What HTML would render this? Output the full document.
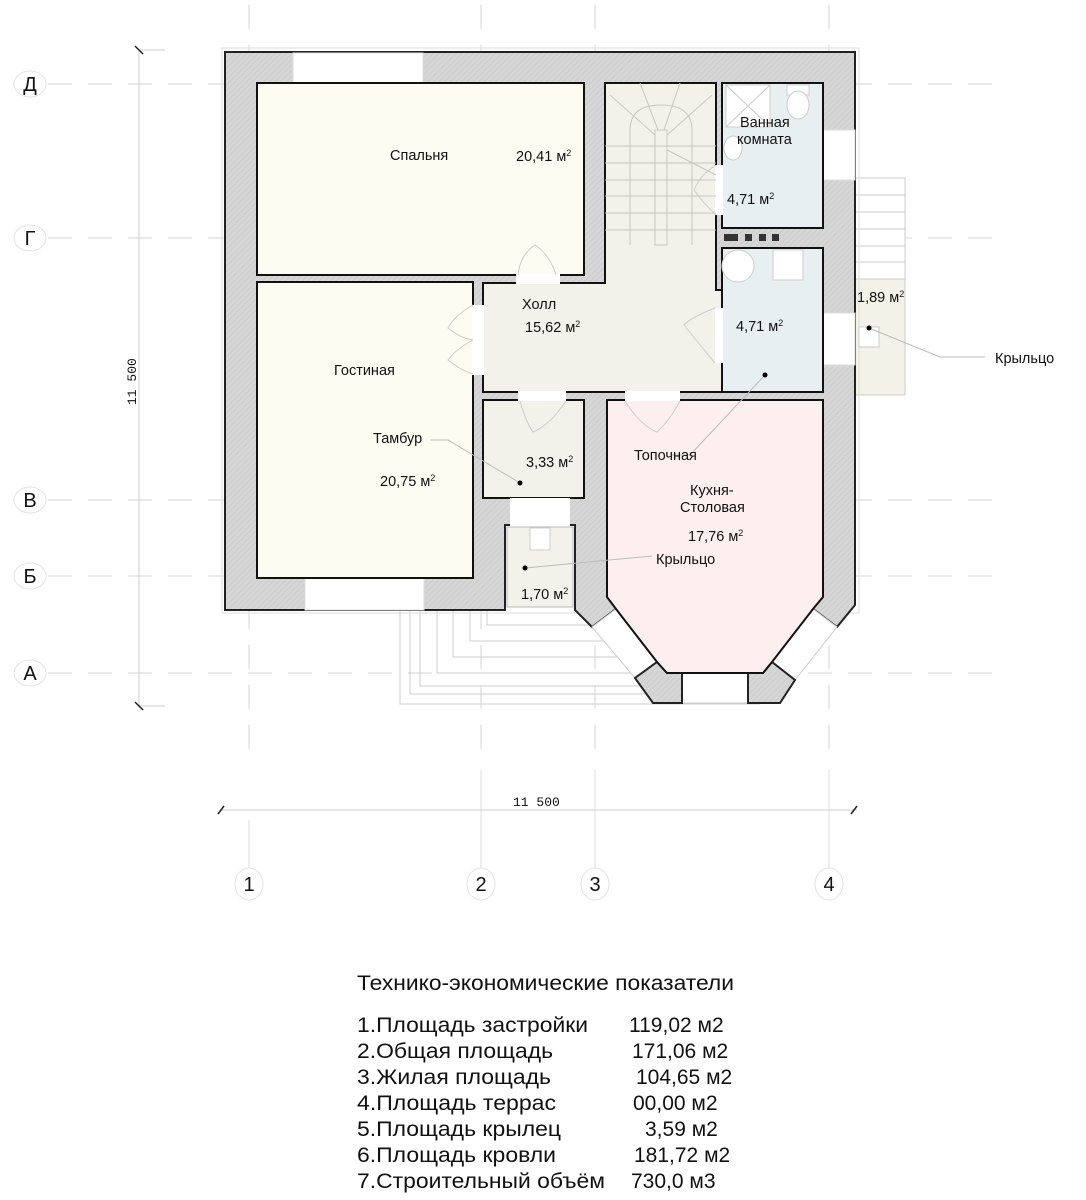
<!DOCTYPE html>
<html><head><meta charset="utf-8"><style>
html,body{margin:0;padding:0;background:#fff;}
svg{display:block;}
text{font-family:"Liberation Sans",sans-serif;fill:#111;}
</style></head><body>
<svg width="1086" height="1200" viewBox="0 0 1086 1200" xmlns="http://www.w3.org/2000/svg">
<defs>
<pattern id="h" width="4" height="4" patternUnits="userSpaceOnUse" patternTransform="rotate(45)">
<rect width="4" height="4" fill="#d6d6d6"/><line x1="0" y1="0" x2="0" y2="4" stroke="#c4c4c4" stroke-width="1"/>
</pattern>
</defs>

<!-- grid lines -->
<g stroke="#d6d6d6" stroke-width="1" stroke-dasharray="24,16" fill="none">
<line x1="48" y1="84" x2="1000" y2="84"/>
<line x1="48" y1="238" x2="1000" y2="238"/>
<line x1="48" y1="500" x2="1000" y2="500"/>
<line x1="48" y1="576" x2="1000" y2="576"/>
<line x1="48" y1="673" x2="1000" y2="673"/>
<line x1="249" y1="5" x2="249" y2="760"/>
<line x1="481" y1="5" x2="481" y2="760"/>
<line x1="595" y1="5" x2="595" y2="760"/>
<line x1="829" y1="5" x2="829" y2="760"/>
</g>
<g stroke="#ddd" stroke-width="1">
<line x1="249" y1="820" x2="249" y2="868"/>
<line x1="481" y1="770" x2="481" y2="868"/>
<line x1="595" y1="770" x2="595" y2="868"/>
<line x1="829" y1="770" x2="829" y2="868"/>
</g>

<!-- axis labels -->
<g fill="#fff" stroke="#e3e3e3">
<ellipse cx="30" cy="84" rx="16" ry="13"/><ellipse cx="30" cy="238" rx="16" ry="13"/>
<ellipse cx="30" cy="500" rx="16" ry="13"/><ellipse cx="30" cy="576" rx="16" ry="13"/>
<ellipse cx="30" cy="673" rx="16" ry="13"/>
<ellipse cx="249" cy="884" rx="14" ry="16"/><ellipse cx="481" cy="884" rx="14" ry="16"/>
<ellipse cx="595" cy="884" rx="14" ry="16"/><ellipse cx="829" cy="884" rx="14" ry="16"/>
</g>
<g font-size="20" text-anchor="middle">
<text x="30" y="91">Д</text><text x="30" y="245">Г</text><text x="30" y="507">В</text>
<text x="30" y="583">Б</text><text x="30" y="680">А</text>
<text x="249" y="891">1</text><text x="481" y="891">2</text><text x="595" y="891">3</text><text x="829" y="891">4</text>
</g>

<!-- dimensions -->
<g stroke="#ccc"><line x1="139" y1="50" x2="139" y2="706"/><line x1="220" y1="810" x2="857" y2="810"/>
<line x1="139" y1="50" x2="165" y2="50"/><line x1="139" y1="706" x2="165" y2="706"/></g>
<g stroke="#222" stroke-width="1.5"><line x1="135" y1="46" x2="143" y2="54"/><line x1="135" y1="702" x2="143" y2="710"/>
<line x1="218" y1="814" x2="224" y2="806"/><line x1="851" y1="814" x2="857" y2="806"/></g>
<text x="0" y="0" font-size="13" transform="translate(136,405) rotate(-90)" style="font-family:'Liberation Mono',monospace">11 500</text>
<text x="513" y="806" font-size="13" style="font-family:'Liberation Mono',monospace">11 500</text>

<!-- front steps -->
<g fill="none" stroke="#ccc">
<path d="M400 606 V704 H760"/><path d="M410 606 V694 H740"/><path d="M420 606 V686 H650"/>
<path d="M437 606 V673 H640"/><path d="M453 606 V657 H625"/><path d="M470 606 V641 H610"/><path d="M487 606 V625 H600"/>
</g>
<!-- right steps -->
<g fill="#fff" stroke="#ccc"><rect x="855" y="178" width="50" height="101"/></g>
<g stroke="#ccc"><line x1="855" y1="195" x2="905" y2="195"/><line x1="855" y1="212" x2="905" y2="212"/><line x1="855" y1="229" x2="905" y2="229"/><line x1="855" y1="246" x2="905" y2="246"/><line x1="855" y1="262" x2="905" y2="262"/></g>
<rect x="855" y="279" width="50" height="116" fill="#f2f2e8" stroke="#ccc"/>

<!-- building walls -->
<rect x="222" y="48" width="637" height="565" fill="none" stroke="#ddd"/>
<path d="M225 52 H855 V605 L837 627 L813 609 L616 609 L592 627 L575 610 L575 525 L505 525 L505 610 L225 610 Z" fill="url(#h)" stroke="#222" stroke-width="2"/>
<!-- bay glass -->
<g fill="#fff" stroke="#ccc">
<path d="M592 627 L616 609 L657 662 L635 678 Z"/>
<path d="M837 627 L813 609 L772 662 L795 680 Z"/>
<path d="M682 673 L748 673 L748 703 L682 703 Z"/>
</g>
<!-- bay wall chunks -->
<path d="M635 678 L657 662 L667 673 L682 673 L682 703 L653 703 Z" fill="url(#h)" stroke="#222" stroke-width="2"/>
<path d="M748 673 L763 673 L772 662 L795 680 L780 703 L748 703 Z" fill="url(#h)" stroke="#222" stroke-width="2"/>

<!-- windows -->
<g fill="#fff" stroke="#ddd"><rect x="293" y="53" width="130" height="30"/><rect x="305" y="578" width="119" height="32"/>
<rect x="823" y="130" width="32" height="50"/><rect x="823" y="313" width="32" height="52"/></g>

<!-- rooms -->
<g stroke="#111" stroke-width="2">
<rect x="257" y="83" width="327" height="192" fill="#fdfcf3"/>
<rect x="257" y="282" width="216" height="296" fill="#fdfcf3"/>
<path d="M605 83 H716 V290 H722 V392 H483 V283 H605 Z" fill="#f2f2ea"/>
<rect x="722" y="83" width="101" height="145" fill="#e8eff0"/>
<rect x="722" y="248" width="101" height="144" fill="#e8eff0"/>
<rect x="483" y="400" width="101" height="98" fill="#f2f2ea"/>
<path d="M607 400 H823 V597 L813 609 L772 662 L763 673 L667 673 L657 662 L616 609 L607 597 Z" fill="#fdeff0"/>
</g>
<rect x="507" y="527" width="66" height="80" fill="#f2f2ea" stroke="#bbb"/>
<!-- door openings -->
<g fill="#fff"><rect x="516" y="274" width="44" height="10"/><rect x="472" y="305" width="12" height="70"/>
<rect x="518" y="391" width="48" height="10"/><rect x="625" y="391" width="55" height="10"/>
<rect x="715" y="165" width="8" height="50"/><rect x="715" y="308" width="8" height="55"/>
<rect x="510" y="498" width="60" height="28"/></g>
<!-- door swings -->
<g fill="none" stroke="#ccc">
<path d="M518 275 Q520 255 535 245 Q550 255 556 275"/>
<path d="M473 305 Q455 315 448 328 Q460 338 473 340 M473 340 Q455 350 448 360 Q460 370 473 374"/>
<path d="M520 401 Q525 420 533 432 Q550 425 566 401"/>
<path d="M625 401 Q640 425 657 432 Q670 420 680 401"/>
<path d="M715 308 Q690 318 684 325 Q700 345 715 363"/>
<path d="M716 165 Q700 175 694 190 Q705 205 716 215"/>
</g>
<!-- stairs -->
<g fill="none" stroke="#c8c8c0" stroke-width="1">
<line x1="630" y1="130" x2="630" y2="245"/><line x1="692" y1="130" x2="692" y2="245"/>
<rect x="655" y="130" width="12" height="115"/>
<path d="M630 130 Q630 105 661 105 Q692 105 692 130"/>
<line x1="605" y1="146" x2="716" y2="146"/><line x1="605" y1="163" x2="716" y2="163"/>
<line x1="605" y1="180" x2="716" y2="180"/><line x1="605" y1="196" x2="716" y2="196"/>
<line x1="605" y1="213" x2="716" y2="213"/><line x1="605" y1="230" x2="716" y2="230"/>
<line x1="640" y1="83" x2="658" y2="130"/><line x1="680" y1="83" x2="664" y2="130"/><line x1="610" y1="95" x2="655" y2="135"/><line x1="712" y1="95" x2="667" y2="135"/>
<line x1="667" y1="150" x2="716" y2="175"/>
</g>
<!-- fixtures -->
<g fill="#fff" stroke="#ccc"><rect x="726" y="85" width="44" height="42"/><line x1="726" y1="85" x2="770" y2="127"/><line x1="770" y1="85" x2="726" y2="127"/>
<rect x="787" y="85" width="22" height="10"/><ellipse cx="798" cy="105" rx="11" ry="14"/>
<ellipse cx="733" cy="148" rx="9" ry="12"/>
<circle cx="738" cy="266" r="16"/><rect x="773" y="250" width="30" height="30"/>
<rect x="530" y="528" width="20" height="22"/><rect x="859" y="327" width="20" height="20"/></g>
<g fill="#333"><rect x="724" y="234" width="14" height="7"/><rect x="745" y="234" width="7" height="7"/><rect x="759" y="234" width="7" height="7"/><rect x="772" y="234" width="7" height="7"/></g>

<!-- leader lines -->
<g stroke="#bbb" fill="none"><path d="M430 440 H448 L520 483"/><path d="M672 455 H690 L765 375"/><path d="M525 568 L652 556"/><path d="M869 328 L940 357 H985"/></g>
<g fill="#000"><circle cx="520" cy="483" r="2.5"/><circle cx="765" cy="375" r="2.5"/><circle cx="525" cy="568" r="2.5"/><circle cx="869" cy="328" r="2.5"/></g>

<!-- labels -->
<g font-size="14.5">
<text x="390" y="160">Спальня</text>
<text x="516" y="161">20,41 м<tspan font-size="9" dy="-5">2</tspan></text>
<text x="522" y="309">Холл</text>
<text x="525" y="332">15,62 м<tspan font-size="9" dy="-5">2</tspan></text>
<text x="334" y="375">Гостиная</text>
<text x="373" y="443">Тамбур</text>
<text x="380" y="486">20,75 м<tspan font-size="9" dy="-5">2</tspan></text>
<text x="526" y="467">3,33 м<tspan font-size="9" dy="-5">2</tspan></text>
<text x="634" y="460">Топочная</text>
<text x="690" y="495">Кухня-</text>
<text x="680" y="512">Столовая</text>
<text x="688" y="541">17,76 м<tspan font-size="9" dy="-5">2</tspan></text>
<text x="656" y="564">Крыльцо</text>
<text x="521" y="599">1,70 м<tspan font-size="9" dy="-5">2</tspan></text>
<text x="740" y="127">Ванная</text>
<text x="737" y="144">комната</text>
<text x="727" y="204">4,71 м<tspan font-size="9" dy="-5">2</tspan></text>
<text x="736" y="331">4,71 м<tspan font-size="9" dy="-5">2</tspan></text>
<text x="857" y="302">1,89 м<tspan font-size="9" dy="-5">2</tspan></text>
<text x="995" y="363">Крыльцо</text>
</g>

<!-- table -->
<g font-size="21">
<text x="357" y="990" textLength="377" lengthAdjust="spacingAndGlyphs">Технико-экономические показатели</text>
<text x="357" y="1032" textLength="231" lengthAdjust="spacingAndGlyphs">1.Площадь застройки</text><text x="629" y="1032">119,02 м2</text>
<text x="357" y="1058" textLength="196" lengthAdjust="spacingAndGlyphs">2.Общая площадь</text><text x="632" y="1058">171,06 м2</text>
<text x="357" y="1084" textLength="194" lengthAdjust="spacingAndGlyphs">3.Жилая площадь</text><text x="636" y="1084">104,65 м2</text>
<text x="357" y="1110" textLength="199" lengthAdjust="spacingAndGlyphs">4.Площадь террас</text><text x="633" y="1110">00,00 м2</text>
<text x="357" y="1136" textLength="204" lengthAdjust="spacingAndGlyphs">5.Площадь крылец</text><text x="645" y="1136">3,59 м2</text>
<text x="357" y="1162" textLength="199" lengthAdjust="spacingAndGlyphs">6.Площадь кровли</text><text x="634" y="1162">181,72 м2</text>
<text x="357" y="1188" textLength="248" lengthAdjust="spacingAndGlyphs">7.Строительный объём</text><text x="631" y="1188">730,0 м3</text>
</g>
</svg>
</body></html>
